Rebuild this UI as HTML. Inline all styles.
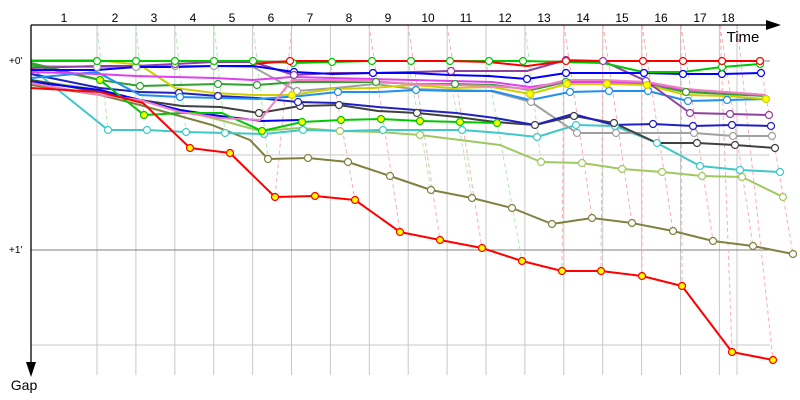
<!DOCTYPE html>
<html><head><meta charset="utf-8"><style>
body{margin:0;background:#fff}
svg{display:block;font-family:"Liberation Sans",sans-serif}
</style></head><body>
<svg width="800" height="400" viewBox="0 0 800 400">
<g stroke="#c8c8c8" stroke-width="1">
<line x1="97" y1="25" x2="97" y2="375"/><line x1="135.9" y1="25" x2="135.9" y2="375"/><line x1="174.8" y1="25" x2="174.8" y2="375"/><line x1="213.7" y1="25" x2="213.7" y2="375"/><line x1="252.6" y1="25" x2="252.6" y2="375"/><line x1="291.5" y1="25" x2="291.5" y2="375"/><line x1="330.4" y1="25" x2="330.4" y2="375"/><line x1="369.3" y1="25" x2="369.3" y2="375"/><line x1="408.2" y1="25" x2="408.2" y2="375"/><line x1="447.1" y1="25" x2="447.1" y2="375"/><line x1="486" y1="25" x2="486" y2="375"/><line x1="524.9" y1="25" x2="524.9" y2="375"/><line x1="563.8" y1="25" x2="563.8" y2="375"/><line x1="602.7" y1="25" x2="602.7" y2="375"/><line x1="641.6" y1="25" x2="641.6" y2="375"/><line x1="680.5" y1="25" x2="680.5" y2="375"/><line x1="719.4" y1="25" x2="719.4" y2="375"/><line x1="737" y1="25" x2="737" y2="375"/>
<line x1="31" y1="155" x2="770" y2="155"/><line x1="31" y1="345" x2="770" y2="345"/>
</g>
<line x1="31" y1="61" x2="770" y2="61" stroke="#808080"/>
<line x1="31" y1="250" x2="770" y2="250" stroke="#808080"/>
<g stroke-dasharray="4,3" stroke-width="1" fill="none">
<g stroke="#b0e8b0">
<line x1="97" y1="25" x2="108" y2="130"/><line x1="136" y1="25" x2="144" y2="115"/><line x1="175" y1="25" x2="186" y2="132"/><line x1="214" y1="25" x2="225" y2="133"/><line x1="253" y1="25" x2="268" y2="159"/><line x1="408" y1="60" x2="431" y2="190"/><line x1="447" y1="60" x2="472" y2="198"/><line x1="525" y1="25" x2="541" y2="162"/><line x1="486" y1="60" x2="522" y2="261"/>
</g>
<g stroke="#f8b0b0">
<line x1="292" y1="25" x2="275" y2="197"/><line x1="330" y1="60" x2="355" y2="200"/><line x1="369" y1="25" x2="400" y2="232"/><line x1="408" y1="25" x2="440" y2="240"/><line x1="447" y1="25" x2="482" y2="248"/><line x1="564" y1="25" x2="562" y2="271"/><line x1="603" y1="25" x2="601" y2="271"/><line x1="642" y1="25" x2="642" y2="276"/><line x1="681" y1="25" x2="682" y2="286"/><line x1="720" y1="25" x2="732" y2="352"/><line x1="737" y1="25" x2="773" y2="360"/><line x1="564" y1="25" x2="592" y2="218"/><line x1="603" y1="25" x2="632" y2="223"/><line x1="642" y1="25" x2="673" y2="231"/><line x1="681" y1="25" x2="713" y2="241"/><line x1="720" y1="25" x2="753" y2="246"/><line x1="760" y1="61" x2="793" y2="254"/>
</g>
</g>
<g fill="none" stroke-width="2" stroke-linejoin="round">
<polyline stroke="#808040" points="31,85 100,95 140,105 212,125 250,140 268,159 308,158 348,162 390,176 431,190 472,198 512,208 552,224 592,218 632,223 673,231 713,241 753,246 793,254"/>
<polyline stroke="#a0c860" points="31,80 100,90 140,100 220,120 260,131 300,128 340,131 380,132 420,135 460,140 500,145 541,162 582,163 622,169 662,172 702,176 742,177 783,197"/>
<polyline stroke="#40c8c8" points="31,68 108,130 147,130 186,132 225,133 264,134 303,130 343,131 383,130 422,130 462,130 500,133 537,137 576,125 615,126 657,143 700,166 740,170 780,172"/>
<polyline stroke="#a0a0a0" points="31,66 97,67 136,67 175,66 214,66 253,67 297,91 335,88 375,84 413,89 452,90 490,91 531,102 577,133 616,133 656,133 694,133 733,136 772,136"/>
<polyline stroke="#404040" points="31,80 100,92 140,100 182,106 220,107 259,113 300,106 339,105 378,111 417,113 457,117 495,122 535,125 574,116 614,123 657,143 697,143 735,145 775,148"/>
<polyline stroke="#2020c0" points="31,74 100,88 140,92 179,93 218,96 257,98 298,102 337,103 378,107 416,110 456,113 495,118 535,125 573,114 614,125 653,124 693,126 732,125 771,126"/>
<polyline stroke="#0000ff" points="31,82 100,90 140,100 180,110 220,116 262,121 300,120"/>
<polyline stroke="#00c800" points="31,65 100,80 144,115 183,113 222,113 262,131 302,122 341,120 381,119 420,121 460,122 497,123"/>
<polyline stroke="#30a030" points="31,63 100,80 140,86 179,85 218,84 257,85 297,82 336,82 376,82 415,84 455,84 494,85 531,90 566,82 607,82 647,84 686,92 725,94 766,96"/>
<polyline stroke="#2090f0" points="31,78 97,72 140,95 180,97 219,98 258,99 300,96 338,92 378,92 416,90 455,91 493,91 530,100 570,92 609,91 648,91 688,101 727,100 766,99"/>
<polyline stroke="#d0d000" points="31,60 97,60 140,65 175,88 214,93 253,95 292,95 332,89 373,88 412,85 452,88 492,87 530,94 567,84 607,84 647,85 686,95 726,96 766,99"/>
<polyline stroke="#e040f0" points="31,72 97,74 136,76 175,77 214,78 253,80 292,77 332,78 373,79 412,80 452,81 492,82 530,87 566,82 605,82 647,83 686,90 725,92 766,95"/>
<polyline stroke="#f080c0" points="31,83 100,95 140,100 180,112 220,118 260,120 292,80 330,80 373,81 412,84 452,85 492,86 530,89 566,80 605,80 647,82 686,89 725,92 766,95"/>
<polyline stroke="#9040a0" points="31,68 97,66 136,66 175,64 214,62 253,62 294,75 333,73 373,73 412,72 451,71 490,71 527,71 566,60 603,61 646,81 690,113 730,114 769,115"/>
<polyline stroke="#0000ff" points="31,70 97,70 136,67 176,67 214,66 253,66 294,72 333,74 373,73 412,73 450,75 489,76 527,79 566,73 605,73 644,73 683,74 722,74 761,73"/>
<polyline stroke="#00c800" points="31,61 97,61 136,61 175,61 214,61 253,61 293,63 332,62 372,61 411,61 450,61 489,61 523,61 565,62 603,63 643,72 683,72 722,67 760,64"/>
<polyline stroke="#ff0000" points="31,88 100,92 143,103 190,148 230,153 275,197 315,196 355,200 400,232 440,240 482,248 522,261 562,271 601,271 642,276 682,286 732,352 773,360"/>
<polyline stroke="#ff0000" points="253,64 290,61 330,61 370,61 410,61 450,61 489,62 527,66 566,61 603,61 643,61 683,61 722,61 760,61"/>
</g>
<g fill="#fff" stroke-width="1.2">
<g stroke="#808040"><circle cx="268" cy="159" r="3.5"/><circle cx="308" cy="158" r="3.5"/><circle cx="348" cy="162" r="3.5"/><circle cx="390" cy="176" r="3.5"/><circle cx="431" cy="190" r="3.5"/><circle cx="472" cy="198" r="3.5"/><circle cx="512" cy="208" r="3.5"/><circle cx="552" cy="224" r="3.5"/><circle cx="592" cy="218" r="3.5"/><circle cx="632" cy="223" r="3.5"/><circle cx="673" cy="231" r="3.5"/><circle cx="713" cy="241" r="3.5"/><circle cx="753" cy="246" r="3.5"/><circle cx="793" cy="254" r="3.5"/></g>
<g stroke="#a0c860"><circle cx="541" cy="162" r="3.5"/><circle cx="582" cy="163" r="3.5"/><circle cx="622" cy="169" r="3.5"/><circle cx="662" cy="172" r="3.5"/><circle cx="702" cy="176" r="3.5"/><circle cx="742" cy="177" r="3.5"/><circle cx="783" cy="197" r="3.5"/><circle cx="340" cy="131" r="3.5"/><circle cx="420" cy="135" r="3.5"/></g>
<g stroke="#40c8c8"><circle cx="108" cy="130" r="3.5"/><circle cx="147" cy="130" r="3.5"/><circle cx="186" cy="132" r="3.5"/><circle cx="225" cy="133" r="3.5"/><circle cx="264" cy="134" r="3.5"/><circle cx="303" cy="130" r="3.5"/><circle cx="383" cy="130" r="3.5"/><circle cx="462" cy="130" r="3.5"/><circle cx="537" cy="137" r="3.5"/><circle cx="576" cy="125" r="3.5"/><circle cx="615" cy="126" r="3.5"/><circle cx="657" cy="143" r="3.5"/><circle cx="700" cy="166" r="3.5"/><circle cx="740" cy="170" r="3.5"/><circle cx="780" cy="172" r="3.5"/></g>
<g stroke="#a0a0a0"><circle cx="97" cy="67" r="3.5"/><circle cx="136" cy="67" r="3.5"/><circle cx="175" cy="66" r="3.5"/><circle cx="214" cy="66" r="3.5"/><circle cx="297" cy="91" r="3.5"/><circle cx="531" cy="102" r="3.5"/><circle cx="577" cy="133" r="3.5"/><circle cx="616" cy="133" r="3.5"/><circle cx="694" cy="133" r="3.5"/><circle cx="733" cy="136" r="3.5"/><circle cx="772" cy="136" r="3.5"/></g>
<g stroke="#404040"><circle cx="259" cy="113" r="3.5"/><circle cx="300" cy="106" r="3.5"/><circle cx="339" cy="105" r="3.5"/><circle cx="417" cy="113" r="3.5"/><circle cx="535" cy="125" r="3.5"/><circle cx="574" cy="116" r="3.5"/><circle cx="614" cy="123" r="3.5"/><circle cx="697" cy="143" r="3.5"/><circle cx="735" cy="145" r="3.5"/><circle cx="775" cy="148" r="3.5"/></g>
<g stroke="#2020c0"><circle cx="179" cy="93" r="3.5"/><circle cx="218" cy="96" r="3.5"/><circle cx="298" cy="102" r="3.5"/><circle cx="653" cy="124" r="3.5"/><circle cx="693" cy="126" r="3.5"/><circle cx="732" cy="125" r="3.5"/><circle cx="771" cy="126" r="3.5"/></g>
<g stroke="#0000ff"><circle cx="294" cy="72" r="3.5"/><circle cx="373" cy="73" r="3.5"/><circle cx="527" cy="79" r="3.5"/><circle cx="566" cy="73" r="3.5"/><circle cx="644" cy="73" r="3.5"/><circle cx="683" cy="74" r="3.5"/><circle cx="722" cy="74" r="3.5"/><circle cx="761" cy="73" r="3.5"/></g>
<g stroke="#30a030"><circle cx="140" cy="86" r="3.5"/><circle cx="218" cy="84" r="3.5"/><circle cx="257" cy="85" r="3.5"/><circle cx="376" cy="82" r="3.5"/><circle cx="455" cy="84" r="3.5"/><circle cx="566" cy="82" r="3.5"/><circle cx="686" cy="92" r="3.5"/></g>
<g stroke="#2090f0"><circle cx="180" cy="97" r="3.5"/><circle cx="338" cy="92" r="3.5"/><circle cx="416" cy="90" r="3.5"/><circle cx="570" cy="92" r="3.5"/><circle cx="609" cy="91" r="3.5"/><circle cx="648" cy="91" r="3.5"/><circle cx="688" cy="101" r="3.5"/><circle cx="727" cy="100" r="3.5"/></g>
<g stroke="#9040a0"><circle cx="175" cy="64" r="3.5"/><circle cx="294" cy="75" r="3.5"/><circle cx="451" cy="71" r="3.5"/><circle cx="566" cy="60" r="3.5"/><circle cx="603" cy="61" r="3.5"/><circle cx="646" cy="81" r="3.5"/><circle cx="690" cy="113" r="3.5"/><circle cx="730" cy="114" r="3.5"/><circle cx="769" cy="115" r="3.5"/></g>
<g stroke="#00c800"><circle cx="97" cy="61" r="3.5"/><circle cx="136" cy="61" r="3.5"/><circle cx="175" cy="61" r="3.5"/><circle cx="214" cy="61" r="3.5"/><circle cx="253" cy="61" r="3.5"/><circle cx="293" cy="63" r="3.5"/><circle cx="332" cy="62" r="3.5"/><circle cx="372" cy="61" r="3.5"/><circle cx="411" cy="61" r="3.5"/><circle cx="450" cy="61" r="3.5"/><circle cx="489" cy="61" r="3.5"/><circle cx="523" cy="61" r="3.5"/><circle cx="722" cy="67" r="3.5"/><circle cx="760" cy="64" r="3.5"/></g>
<g stroke="#ff0000"><circle cx="290" cy="61" r="3.5"/><circle cx="566" cy="61" r="3.5"/><circle cx="643" cy="61" r="3.5"/><circle cx="683" cy="61" r="3.5"/><circle cx="722" cy="61" r="3.5"/><circle cx="760" cy="61" r="3.5"/></g>
<g stroke="#ff0000" fill="#ffff00"><circle cx="190" cy="148" r="3.5"/><circle cx="230" cy="153" r="3.5"/><circle cx="275" cy="197" r="3.5"/><circle cx="315" cy="196" r="3.5"/><circle cx="355" cy="200" r="3.5"/><circle cx="400" cy="232" r="3.5"/><circle cx="440" cy="240" r="3.5"/><circle cx="482" cy="248" r="3.5"/><circle cx="522" cy="261" r="3.5"/><circle cx="562" cy="271" r="3.5"/><circle cx="601" cy="271" r="3.5"/><circle cx="642" cy="276" r="3.5"/><circle cx="682" cy="286" r="3.5"/><circle cx="732" cy="352" r="3.5"/><circle cx="773" cy="360" r="3.5"/></g>
<g stroke="#00c800" fill="#ffff00"><circle cx="100" cy="80" r="3.5"/><circle cx="144" cy="115" r="3.5"/><circle cx="262" cy="131" r="3.5"/><circle cx="302" cy="122" r="3.5"/><circle cx="341" cy="120" r="3.5"/><circle cx="381" cy="119" r="3.5"/><circle cx="420" cy="121" r="3.5"/><circle cx="460" cy="122" r="3.5"/><circle cx="497" cy="123" r="3.5"/></g>
<g stroke="#d0d000" fill="#ffff00"><circle cx="292" cy="95" r="3.5"/><circle cx="530" cy="94" r="3.5"/><circle cx="567" cy="84" r="3.5"/><circle cx="607" cy="84" r="3.5"/><circle cx="647" cy="85" r="3.5"/><circle cx="766" cy="99" r="3.5"/></g>
</g>
<g stroke="#000" stroke-width="1.3">
<line x1="31" y1="25" x2="772" y2="25"/>
<line x1="31" y1="25" x2="31" y2="368"/>
</g>
<polygon points="781,25 766,20 766,30" fill="#000"/>
<polygon points="31,377 26,362 36,362" fill="#000"/>
<g font-size="12" fill="#000" text-anchor="middle">
<text x="64" y="22">1</text><text x="115" y="22">2</text><text x="154" y="22">3</text><text x="193" y="22">4</text><text x="232" y="22">5</text><text x="271" y="22">6</text><text x="310" y="22">7</text><text x="349" y="22">8</text><text x="388" y="22">9</text><text x="428" y="22">10</text><text x="466" y="22">11</text><text x="505" y="22">12</text><text x="544" y="22">13</text><text x="583" y="22">14</text><text x="622" y="22">15</text><text x="661" y="22">16</text><text x="700" y="22">17</text><text x="728" y="22">18</text>
</g>
<text x="743" y="42" font-size="15" text-anchor="middle">Time</text>
<text x="24" y="390" font-size="14" text-anchor="middle">Gap</text>
<text x="9" y="64" font-size="10">+0'</text>
<text x="9" y="253" font-size="10">+1'</text>
</svg>
</body></html>
